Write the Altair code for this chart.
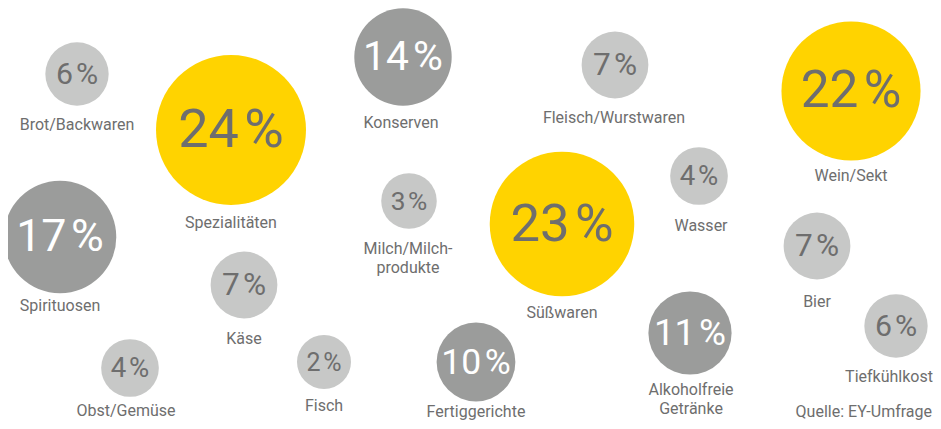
import altair as alt
import pandas as pd

# --- data ---
categories = ["Brot/Backwaren", "Spezialitäten", "Spirituosen", "Obst/Gemüse", "Käse",
              "Fisch", "Konserven", "Milch/Milch-\nprodukte", "Fertiggerichte", "Süßwaren",
              "Fleisch/Wurstwaren", "Wasser", "Alkoholfreie\nGetränke", "Wein/Sekt", "Bier",
              "Tiefkühlkost"]
values = [6, 24, 17, 4, 7, 2, 14, 3, 10, 23, 7, 4, 11, 22, 7, 6]

# bubble layout (free layout coordinates of the bubble chart)
bx = [77, 231, 60, 130, 244, 324, 403, 409, 476, 562, 615, 699, 690, 851, 817, 896]
by = [74, 130, 237, 368, 285, 362, 57, 201, 362, 224, 65, 176, 333, 91, 246, 326]
# label anchor (baseline of first line)
lx = [77, 231, 60, 126, 244, 324, 401, 408, 476, 562, 614, 701, 691, 851, 817, 889]
ly = [130, 228, 311, 416, 344, 411, 128, 254, 417, 318, 123, 231, 395, 181, 307, 382]

source_text = ["Quelle: EY-Umfrage"]
source_x = [932]
source_y = [417]

df = pd.DataFrame({
    "cat": categories,
    "value": values,
    "pct": [f"{v}\u200a%" for v in values],
    "x": bx, "y": by, "lx": lx, "ly": ly,
})
src = pd.DataFrame({"t": source_text, "x": source_x, "y": source_y})

xs = alt.Scale(domain=[8, 933], nice=False, zero=False)
ys = alt.Scale(domain=[8, 421], nice=False, zero=False, reverse=True)

FONT = "Roboto"
GREY_TXT = "#6E6E6E"

circles = alt.Chart(df).mark_circle(opacity=1).encode(
    x=alt.X("x:Q", scale=xs, axis=None),
    y=alt.Y("y:Q", scale=ys, axis=None),
    size=alt.Size("value:Q", legend=None,
                  scale=alt.Scale(type="pow", exponent=2, domain=[2, 24],
                                  range=[2916, 22500], zero=False)),
    color=alt.Color("value:Q", legend=None,
                    scale=alt.Scale(type="threshold", domain=[9, 20],
                                    range=["#C7C8C7", "#9B9C9B", "#FFD300"])),
)

pcts = alt.Chart(df).mark_text(font=FONT, align="center", baseline="middle", dy=1).encode(
    x=alt.X("x:Q", scale=xs, axis=None),
    y=alt.Y("y:Q", scale=ys, axis=None),
    text="pct:N",
    size=alt.Size("value:Q", legend=None,
                  scale=alt.Scale(type="linear", domain=[2, 24], range=[25, 54], zero=False)),
    color=alt.Color("value:Q", legend=None,
                    scale=alt.Scale(type="threshold", domain=[9, 20],
                                    range=[GREY_TXT, "#FFFFFF", GREY_TXT])),
)

labels = alt.Chart(df).mark_text(font=FONT, fontSize=16, align="center", baseline="alphabetic",
                                 lineBreak="\n", lineHeight=19, color=GREY_TXT).encode(
    x=alt.X("lx:Q", scale=xs, axis=None),
    y=alt.Y("ly:Q", scale=ys, axis=None),
    text="cat:N",
)

source = alt.Chart(src).mark_text(font=FONT, fontSize=16, align="right", baseline="alphabetic",
                                  color=GREY_TXT).encode(
    x=alt.X("x:Q", scale=xs, axis=None),
    y=alt.Y("y:Q", scale=ys, axis=None),
    text="t:N",
)

chart = alt.layer(circles, pcts, labels, source).resolve_scale(
    size="independent", color="independent"
).properties(
    width=925, height=413, padding=0,
    autosize=alt.AutoSizeParams(type="none"),
).configure_view(stroke=None)

chart.save("out.html", embed_options={"renderer": "svg", "actions": False})
